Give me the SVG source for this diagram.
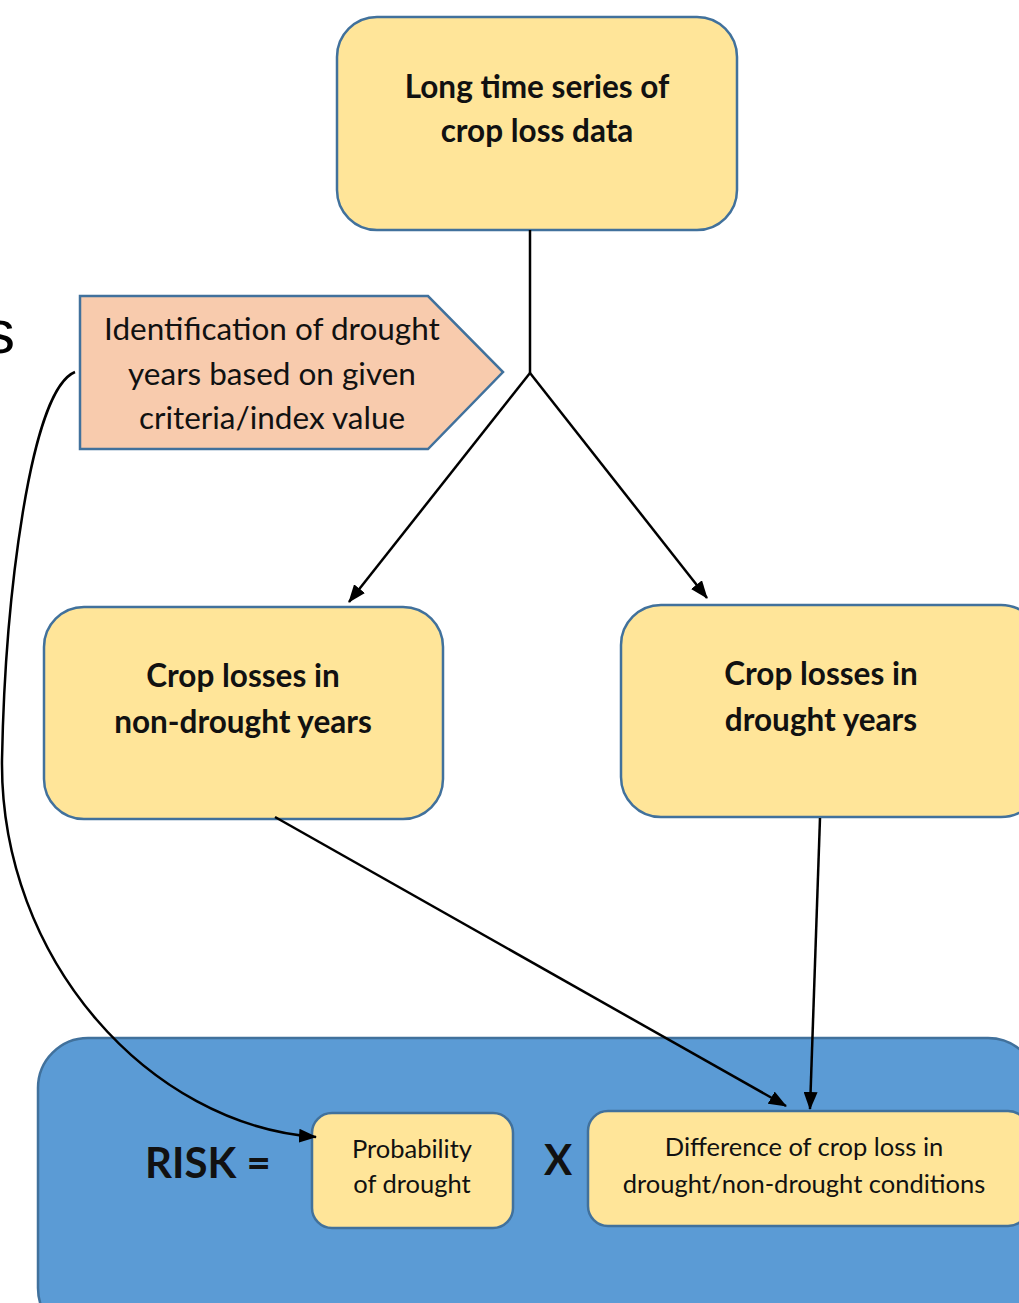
<svg xmlns="http://www.w3.org/2000/svg" width="1019" height="1303" viewBox="0 0 1019 1303">
<defs>
<style>
.box{fill:#FFE599;stroke:#41719C;stroke-width:2.5}
.t{font-family:Lato,"Open Sans",sans-serif;fill:#111;text-anchor:middle}
.b{font-weight:bold;font-size:31.5px}
.n{font-size:31.5px}
.s{font-size:25.5px}
.c{fill:none;stroke:#000;stroke-width:2.5}
</style>
<marker id="ah" viewBox="0 0 18 14" refX="17" refY="7" markerWidth="18" markerHeight="14" markerUnits="userSpaceOnUse" orient="auto">
<path d="M0,0 L18,7 L0,14 z" fill="#000"/>
</marker>
</defs>
<rect width="1019" height="1303" fill="#fff"/>
<text x="-16" y="353" style="font-family:'Liberation Sans',Arial,sans-serif;font-size:62px;fill:#000">s</text>
<g id="n-top">
<rect class="box" x="337" y="17" width="400" height="213" rx="40"/>
<text class="t b" x="537" y="98">Long time series of</text>
<text class="t b" x="537" y="142">crop loss data</text>
</g>
<g id="n-ident">
<polygon points="80,296 428,296 503,372 428,449 80,449" fill="#F8CBAD" stroke="#41719C" stroke-width="2.5"/>
<text class="t n" x="272" y="340">Identification of drought</text>
<text class="t n" x="272" y="385">years based on given</text>
<text class="t n" x="272" y="429">criteria/index value</text>
</g>
<g id="n-nondrought">
<rect class="box" x="44" y="607" width="399" height="212" rx="40"/>
<text class="t b" x="243" y="687">Crop losses in</text>
<text class="t b" x="243" y="733">non-drought years</text>
</g>
<g id="n-drought">
<rect class="box" x="621" y="605" width="420" height="212" rx="40"/>
<text class="t b" x="821" y="685">Crop losses in</text>
<text class="t b" x="821" y="731">drought years</text>
</g>
<g id="n-risk">
<rect x="38" y="1038" width="1000" height="300" rx="50" fill="#5B9BD5" stroke="#41719C" stroke-width="2.5"/>
<text x="145" y="1178" style="font-family:Lato,'Open Sans',sans-serif;font-weight:bold;font-size:42px;fill:#111">RISK =</text>
<text x="558" y="1175" text-anchor="middle" style="font-family:Lato,'Open Sans',sans-serif;font-weight:bold;font-size:42px;fill:#111">X</text>
</g>
<g id="n-prob">
<rect class="box" x="312" y="1113" width="201" height="115" rx="20"/>
<text class="t s" x="412" y="1158">Probability</text>
<text class="t s" x="412" y="1193">of drought</text>
</g>
<g id="n-diff">
<rect class="box" x="588" y="1111" width="440" height="115" rx="20"/>
<text class="t s" x="804" y="1156">Difference of crop loss in</text>
<text class="t s" x="804" y="1193">drought/non-drought conditions</text>
</g>
<g id="connectors">
<polyline class="c" points="530,230 530,373"/>
<line class="c" x1="530" y1="373" x2="349" y2="602" marker-end="url(#ah)"/>
<line class="c" x1="530" y1="373" x2="707" y2="598" marker-end="url(#ah)"/>
<line class="c" x1="275" y1="817" x2="786" y2="1106" marker-end="url(#ah)"/>
<line class="c" x1="820" y1="818" x2="810" y2="1109" marker-end="url(#ah)"/>
<path class="c" d="M75,372 C30,390 5,600 2,760 C0,960 150,1125 316,1137" marker-end="url(#ah)"/>
</g>
</svg>
